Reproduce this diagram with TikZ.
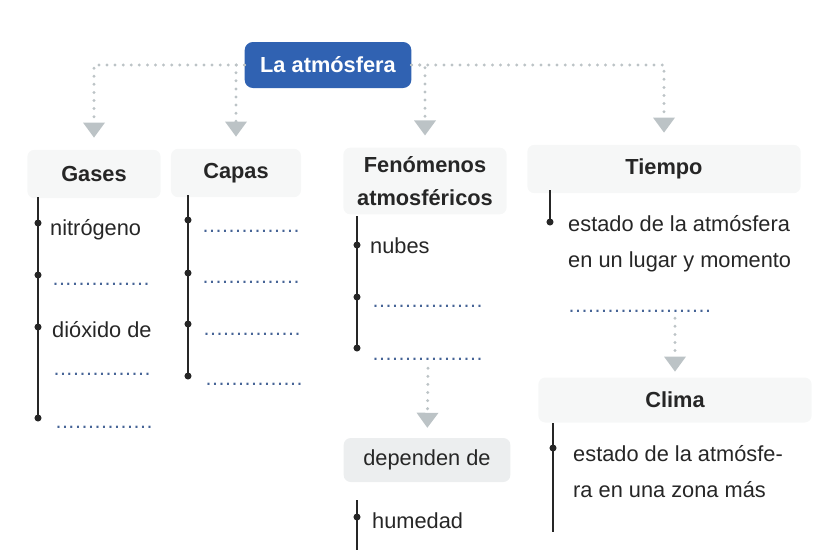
\documentclass[tikz,border=0pt]{standalone}
\usepackage{fontspec}
\setmainfont{Liberation Sans}
\usetikzlibrary{arrows.meta}

\definecolor{azul}{RGB}{48,98,178}
\definecolor{grisflecha}{RGB}{188,195,198}
\definecolor{fondo}{RGB}{246,247,247}
\definecolor{fondoosc}{RGB}{236,238,239}
\definecolor{tinta}{RGB}{38,38,38}
\definecolor{puntos}{RGB}{70,100,150}

\newcommand{\renglon}[1]{\hbox to #1{\color{puntos}\leaders\hbox to 0.195cm{\hss.\hss}\hfill}}

\begin{document}
\begin{tikzpicture}[
    x=0.03cm, y=-0.03cm,
    titulo/.style={fill=azul, text=white, rounded corners=7pt,
                   minimum width=5cm, minimum height=1.38cm,
                   font=\bfseries\fontsize{18.6}{22}\selectfont},
    cabecera/.style={fill=fondo, rounded corners=6pt, text=tinta,
                     minimum height=1.45cm, align=center,
                     font=\bfseries\fontsize{18.6}{28}\selectfont},
    item/.style={anchor=base west, inner sep=0pt, text=tinta, align=left,
                 font=\fontsize{18.6}{30.5}\selectfont},
    hueco/.style={anchor=base west, inner sep=0pt,
                  font=\fontsize{18.3}{22}\selectfont},
    flecha/.style={draw=grisflecha, line width=2.8pt, line cap=round,
                   dash pattern=on 0pt off 6.9pt,
                   -{Triangle[width=0.66cm, length=0.45cm, line width=0pt]},
                   shorten >=0.36cm},
    raya/.style={line width=1.5pt, draw=tinta},
    punto/.style={fill=tinta}
]
\useasboundingbox (0,0) rectangle (813,550);

\node[titulo] (atm) at (328,65) {La atmósfera};

\node[cabecera, minimum width=4cm] (gases) at (94,174) {Gases};
\node[cabecera, minimum width=3.9cm] (capas) at (236,173) {Capas};
\node[cabecera, minimum width=4.9cm, minimum height=2cm] (fenom) at (425,181)
    {Fenómenos\\atmosféricos};
\node[cabecera, minimum width=8.2cm] (tiempo) at (664,169) {Tiempo};
\node[cabecera, minimum width=8.2cm, minimum height=1.35cm] (clima) at (675,400) {Clima};
\node[cabecera, fill=fondoosc, minimum width=5cm, minimum height=1.32cm,
      font=\fontsize{18.6}{22}\selectfont] (depende) at (427,460) {dependen de};

\draw[flecha] (atm.west) -| (gases);
\draw[flecha] (atm.west) -| (capas);
\draw[flecha] (atm.east) -| (fenom);
\draw[flecha] (atm.east) -| (tiempo);

% Gases
\draw[raya] (38,197) -- (38,418);
\foreach \y in {223,275,327,418} \fill[punto] (38,\y) circle[radius=3pt];
\node[item] (g1) at (50,235) {nitrógeno};
\node[hueco] (g2) at (52,285) {\renglon{3cm}};
\node[item] (g3) at (52,337) {dióxido de};
\node[hueco] (g4) at (53,375) {\renglon{3cm}};
\node[hueco] (g5) at (55,428) {\renglon{3cm}};

% Capas
\draw[raya] (188,195) -- (188,376);
\foreach \y in {220,273,324,376} \fill[punto] (188,\y) circle[radius=3pt];
\node[hueco] (c1) at (202,232) {\renglon{3.05cm}};
\node[hueco] (c2) at (202,283) {\renglon{3.05cm}};
\node[hueco] (c3) at (203,335) {\renglon{3.05cm}};
\node[hueco] (c4) at (205,385) {\renglon{3.05cm}};

% Fenómenos atmosféricos
\draw[raya] (357,216) -- (357,348);
\foreach \y in {245,297,348} \fill[punto] (357,\y) circle[radius=3pt];
\node[item] (f1) at (370,253) {nubes};
\node[hueco] (f2) at (372,307) {\renglon{3.35cm}};
\node[hueco] (f3) at (372,360) {\renglon{3.35cm}};
\draw[flecha, shorten <=0.24cm, shorten >=0.3cm] (f3) -- (depende);
\draw[raya] (357,500) -- (357,550);
\fill[punto] (357,517) circle[radius=3pt];
\node[item] (f4) at (372,528) {humedad};

% Tiempo y clima
\draw[raya] (550,190) -- (550,222);
\fill[punto] (550,222) circle[radius=3pt];
\node[item] (t1) at (568,267) {estado de la atmósfera\\en un lugar y momento};
\node[hueco] (t2) at (568,312) {\renglon{4.4cm}};
\draw[flecha, shorten <=0.18cm, shorten >=0.17cm] (t2.south -| clima.north) -- (clima.north);

\draw[raya] (553,423) -- (553,532);
\fill[punto] (553,448) circle[radius=3pt];
\node[item] (k1) at (573,497) {estado de la atmósfe-\\ra en una zona más};
\end{tikzpicture}
\end{document}
